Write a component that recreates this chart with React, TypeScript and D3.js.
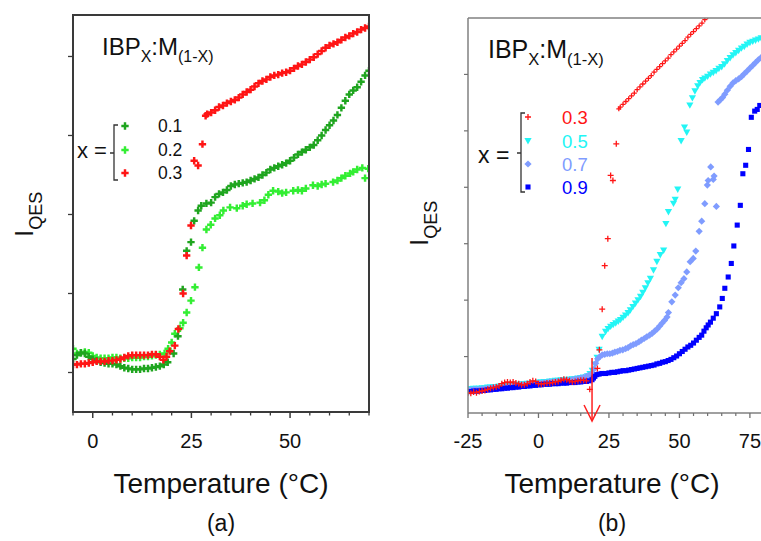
import React from "react";
import * as d3 from "d3";

// ---------- Panel (a) data: [temperature °C, I_QES (a.u.)] ----------
const aX01: [number, number][] = [[-5,1.17],[-4,1.22],[-3,1.25],[-2,1.24],[-1,1.20],[0,1.17],[1,1.15],[2,1.13],[3,1.12],[4,1.11],[5,1.11],[6,1.10],[7,1.08],[8,1.06],[9,1.05],[10,1.04],[11,1.04],[12,1.04],[13,1.05],[14,1.05],[15,1.06],[16,1.07],[17,1.08],[18,1.10],[19,1.13],[20.5,1.24],[21.6,1.46],[22.8,2.05],[23.8,2.54],[24.9,2.65],[25.7,2.92],[26.7,3.05],[27.5,3.11],[28.8,3.14],[30,3.15],[31,3.22],[32,3.26],[33,3.28],[34,3.31],[35,3.36],[36,3.38],[37,3.39],[38,3.40],[39,3.41],[40,3.43],[41,3.45],[42,3.47],[43,3.50],[44,3.53],[45,3.57],[46,3.59],[47,3.61],[48,3.63],[49,3.65],[50,3.68],[51,3.72],[52,3.76],[53,3.79],[54,3.82],[55,3.85],[56,3.88],[57,3.94],[58,4.00],[59,4.07],[60,4.13],[61,4.19],[62,4.26],[63,4.35],[64,4.44],[65,4.52],[66,4.57],[67,4.61],[68,4.68],[69,4.76],[70,4.82]];
const aX02: [number, number][] = [[-5,1.30],[-4,1.24],[-3,1.25],[-2,1.26],[-1,1.25],[0,1.21],[1,1.19],[2,1.18],[3,1.18],[4,1.18],[5,1.19],[6,1.19],[7,1.18],[8,1.18],[9,1.18],[10,1.19],[11,1.19],[12,1.19],[13,1.20],[14,1.20],[15,1.21],[16,1.22],[17,1.23],[18.2,1.24],[19.1,1.30],[20,1.38],[20.8,1.49],[22.1,1.56],[22.9,1.63],[23.8,1.76],[24.9,1.91],[25.9,2.08],[26.9,2.33],[27.8,2.58],[28.8,2.81],[29.9,2.87],[31,2.95],[32.2,2.99],[33.1,3.05],[34.8,3.09],[36.5,3.08],[38,3.11],[39,3.13],[40.5,3.14],[42.4,3.15],[43.5,3.18],[44.5,3.25],[45.7,3.30],[47,3.29],[48,3.27],[49,3.28],[50.8,3.30],[52,3.31],[53,3.30],[54,3.33],[55.8,3.37],[57,3.36],[58,3.38],[59,3.39],[60.9,3.41],[62,3.43],[63,3.46],[64,3.49],[65.2,3.52],[66,3.54],[67,3.57],[68.3,3.59],[69,3.46],[69.8,3.58]];
const aX03: [number, number][] = [[-5,1.10],[-4,1.10],[-3,1.11],[-2,1.11],[-1,1.12],[0,1.13],[1,1.14],[2,1.14],[3,1.14],[4,1.15],[5,1.15],[6,1.16],[7,1.17],[8,1.19],[9,1.21],[10,1.22],[11,1.22],[12,1.22],[13,1.22],[14,1.22],[15,1.23],[16,1.23],[17,1.20],[17.9,1.16],[18.7,1.20],[19.5,1.27],[20.8,1.34],[21.7,1.55],[22.9,2.00],[23.8,2.48],[24.9,2.86],[25.7,3.68],[26.7,3.62],[27.8,3.89],[28.6,4.25],[29,4.27],[30,4.29],[31,4.32],[32,4.36],[33,4.38],[34,4.41],[35,4.43],[36,4.45],[37,4.48],[38,4.52],[39,4.55],[40,4.58],[41,4.62],[42,4.66],[43,4.69],[44,4.71],[45,4.74],[46,4.76],[47,4.77],[48,4.79],[49,4.80],[50,4.82],[51,4.85],[52,4.88],[53,4.90],[54,4.93],[55,4.96],[56,4.99],[57,5.03],[58,5.07],[59,5.11],[60,5.14],[61,5.16],[62,5.18],[63,5.21],[64,5.24],[65,5.26],[66,5.29],[67,5.31],[68,5.34],[69,5.36],[70,5.38]];

// ---------- Panel (b) data ----------
const bX03: [number, number][] = [[-25,0.36],[-24,0.35],[-23,0.37],[-22,0.36],[-21,0.38],[-20,0.39],[-19,0.40],[-18,0.42],[-17,0.44],[-16,0.45],[-15,0.46],[-14,0.48],[-13,0.52],[-12,0.54],[-11,0.55],[-10,0.54],[-9,0.55],[-8,0.53],[-7,0.52],[-6,0.50],[-5,0.50],[-4,0.52],[-3,0.55],[-2,0.57],[-1,0.56],[0,0.52],[1,0.51],[2,0.52],[3,0.53],[4,0.53],[5,0.54],[6,0.55],[7,0.56],[8,0.58],[9,0.60],[10,0.59],[11,0.57],[12,0.55],[13,0.56],[14,0.57],[15,0.58],[16,0.58],[17,0.57],[18.2,0.42],[20.9,0.79],[21.6,1.12],[22.6,1.84],[23.5,2.61],[24.6,3.09],[25.6,4.21],[26.4,4.12],[27.6,4.77],[28.5,5.39],[29,5.42],[30,5.47],[31,5.52],[32,5.57],[33,5.62],[34,5.67],[35,5.73],[36,5.78],[37,5.83],[38,5.88],[39,5.93],[40,5.98],[41,6.04],[42,6.09],[43,6.14],[44,6.19],[45,6.24],[46,6.29],[47,6.35],[48,6.40],[49,6.45],[50,6.50],[51,6.55],[52,6.60],[53,6.66],[54,6.71],[55,6.76],[56,6.81],[57,6.86],[58,6.91],[59,6.97],[60,7.02]];
const bX05: [number, number][] = [[-25,0.42],[-24,0.42],[-23,0.43],[-22,0.43],[-21,0.43],[-20,0.44],[-19,0.44],[-18,0.45],[-17,0.45],[-16,0.46],[-15,0.46],[-14,0.47],[-13,0.47],[-12,0.48],[-11,0.48],[-10,0.49],[-9,0.49],[-8,0.50],[-7,0.50],[-6,0.51],[-5,0.51],[-4,0.52],[-3,0.52],[-2,0.53],[-1,0.53],[0,0.54],[1,0.54],[2,0.55],[3,0.55],[4,0.56],[5,0.56],[6,0.57],[7,0.57],[8,0.58],[9,0.58],[10,0.59],[11,0.59],[12,0.60],[13,0.60],[14,0.61],[15,0.62],[16,0.63],[17.4,0.65],[18.3,0.69],[19.1,0.75],[20,0.86],[20.8,0.98],[21.5,1.12],[22.6,1.35],[23.8,1.44],[24.7,1.49],[25.6,1.53],[26.5,1.56],[27.4,1.59],[28.3,1.62],[29.1,1.65],[30,1.69],[30.9,1.73],[31.8,1.77],[32.6,1.82],[33.5,1.88],[34.4,1.94],[35.3,2.00],[36.2,2.06],[37,2.13],[37.9,2.21],[38.8,2.30],[39.7,2.38],[40.8,2.53],[42,2.68],[43.2,2.80],[44.4,2.88],[45.2,3.35],[46.1,3.56],[47.9,3.71],[48.5,3.78],[49.4,3.96],[50.6,4.82],[51.8,5.06],[52.6,4.97],[53.7,5.45],[54.6,5.58],[55.5,5.70],[56.5,5.79],[57.3,5.85],[58.2,5.90],[59,5.93],[60,5.96],[61,6.00],[62,6.03],[63,6.06],[64,6.10],[65,6.13],[66,6.18],[67,6.24],[68,6.29],[69,6.34],[70,6.38],[71,6.42],[72,6.46],[73,6.49],[74,6.53],[75,6.56],[76,6.58],[77,6.60],[78,6.62],[79,6.64]];
const bX07: [number, number][] = [[-25,0.41],[-24,0.41],[-23,0.42],[-22,0.42],[-21,0.42],[-20,0.43],[-19,0.43],[-18,0.44],[-17,0.44],[-16,0.45],[-15,0.45],[-14,0.46],[-13,0.46],[-12,0.47],[-11,0.47],[-10,0.48],[-9,0.48],[-8,0.49],[-7,0.49],[-6,0.50],[-5,0.50],[-4,0.51],[-3,0.51],[-2,0.52],[-1,0.52],[0,0.53],[1,0.53],[2,0.54],[3,0.54],[4,0.55],[5,0.55],[6,0.56],[7,0.56],[8,0.57],[9,0.57],[10,0.58],[11,0.58],[12,0.59],[13,0.60],[14,0.61],[15,0.62],[16,0.63],[17,0.65],[18,0.67],[19,0.70],[19.7,0.78],[20.3,0.88],[21,0.96],[21.8,1.00],[22.6,1.03],[23.5,1.04],[24.4,1.05],[25.3,1.05],[26.2,1.06],[27.1,1.08],[28,1.09],[28.9,1.11],[29.9,1.12],[30.9,1.14],[31.8,1.16],[32.7,1.19],[33.6,1.21],[34.6,1.23],[35.6,1.26],[36.5,1.29],[37.5,1.32],[38.4,1.35],[39.4,1.38],[40.3,1.41],[41.2,1.45],[42.1,1.49],[43,1.54],[43.8,1.59],[44.7,1.64],[45.6,1.70],[46.1,1.78],[47.3,1.97],[48.5,2.09],[49.6,2.22],[50.6,2.31],[51.6,2.38],[52.6,2.50],[53.8,2.68],[54.9,2.74],[55.8,2.87],[57,3.22],[57.9,3.40],[59,3.71],[59.9,4.04],[60.2,4.12],[61.1,4.36],[62,4.14],[62.3,4.20],[63.1,3.66],[63.7,5.51],[64.5,5.55],[65.3,5.59],[66.1,5.65],[67,5.72],[68,5.79],[69,5.85],[70,5.89],[71,5.92],[72,5.96],[73,6.01],[74,6.06],[75,6.11],[76,6.16],[77,6.21],[78,6.26],[79,6.30]];
const bX09: [number, number][] = [[-25,0.38],[-24,0.38],[-23,0.39],[-22,0.39],[-21,0.39],[-20,0.40],[-19,0.40],[-18,0.41],[-17,0.41],[-16,0.42],[-15,0.42],[-14,0.43],[-13,0.43],[-12,0.44],[-11,0.44],[-10,0.45],[-9,0.45],[-8,0.46],[-7,0.46],[-6,0.47],[-5,0.47],[-4,0.48],[-3,0.48],[-2,0.49],[-1,0.49],[0,0.50],[1,0.50],[2,0.51],[3,0.51],[4,0.51],[5,0.52],[6,0.52],[7,0.52],[8,0.53],[9,0.53],[10,0.53],[11,0.54],[12,0.54],[13,0.54],[14,0.55],[15,0.55],[16,0.56],[17,0.56],[18,0.57],[19,0.59],[19.5,0.62],[20,0.65],[20.7,0.68],[21.5,0.69],[22.5,0.70],[23.8,0.70],[25,0.71],[26,0.72],[27,0.72],[28,0.73],[29,0.74],[30,0.75],[31,0.75],[32,0.76],[33,0.77],[34,0.78],[35,0.79],[36,0.80],[37,0.81],[38,0.82],[39,0.83],[40,0.84],[41,0.85],[42,0.87],[43,0.88],[44,0.90],[45,0.91],[46,0.93],[47,0.95],[48,0.98],[49,1.01],[50,1.05],[51,1.09],[52,1.13],[53,1.17],[54,1.20],[55,1.24],[56,1.29],[57,1.34],[57.9,1.38],[58.7,1.45],[59.5,1.51],[60.2,1.56],[61,1.61],[62,1.68],[63.1,1.76],[64.3,1.88],[65.2,2.03],[66.1,2.21],[67.3,2.41],[68.4,2.65],[69.3,2.96],[70.5,3.33],[71.6,3.68],[72.5,4.24],[73.5,4.39],[74.5,4.67],[75.5,5.24],[76.7,5.35],[77.6,5.38],[78.5,5.45]];

// ---------- Axis ticks & legends ----------
const aXMajor = [0, 25, 50];
const aXMinor = [-5, 5, 10, 15, 20, 30, 35, 40, 45, 55, 60, 65, 70];
const aYTicks = [1, 2, 3, 4, 5];
const bXMajor = [-25, 0, 25, 50, 75];
const bXMinor = [-20, -15, -10, -5, 5, 10, 15, 20, 30, 35, 40, 45, 55, 60, 65, 70, 80];
const bYTicks = [1, 2, 3, 4, 5, 6];
const aLegend = ["0.1", "0.2", "0.3"];
const bLegend = ["0.3", "0.5", "0.7", "0.9"];
const arrowTemp = 19;

const FONT = "'Liberation Sans', Arial, sans-serif";
const C_DG = "#1fa51f";
const C_LG = "#33ee33";
const C_RED = "#ff1515";
const C_CY = "#22f5f5";
const C_LB = "#7f9cff";
const C_BL = "#0000ff";

// panel boxes (layout)
const A = { l: 73, r: 369, t: 15, b: 412 };
const B = { l: 468, r: 764, t: 18, b: 413 };

const xA = d3.scaleLinear().domain([-5, 70]).range([A.l, A.r]);
const yA = d3.scaleLinear().domain([0.5, 5.525]).range([A.b, A.t]);
const xB = d3.scaleLinear().domain([-25, 80]).range([B.l, B.r]);
const yB = d3.scaleLinear().domain([0, 7]).range([B.b, B.t]);

const crossPath = d3.symbol().type(d3.symbolCross).size(30)() as string;
const squarePath = d3.symbol().type(d3.symbolSquare).size(26)() as string;
const thinPlus = "M-3,0H3M0,-3V3";
const smallPlus = "M-2.5,0H2.5M0,-2.5V2.5";
const diamondPath = "M0,-3.6L3.6,0L0,3.6L-3.6,0Z";
const triDown = "M-3.6,-3L3.6,-3L0,3.4Z";

function AMarker({ x, y, color }: { x: number; y: number; color: string }) {
  return <path d={crossPath} transform={`translate(${x},${y})`} fill={color} />;
}

export default function App() {
  const aSeries = [
    { data: aX02, color: C_LG },
    { data: aX01, color: C_DG },
    { data: aX03, color: C_RED },
  ];
  const aLegendColors = [C_DG, C_LG, C_RED];
  const bLegendColors = [C_RED, C_CY, C_LB, C_BL];
  const bLegendY = [117, 141, 164, 187];
  const aLegendY = [126, 150, 173];

  const bMarker = (k: number, x: number, y: number, key: any) => {
    const t = `translate(${x},${y})`;
    if (k === 0) {
      return <path key={key} d={y < 120 && x > 610 ? smallPlus : thinPlus} transform={t} stroke={C_RED} strokeWidth={1.3} fill="none" />;
    }
    if (k === 1) return <path key={key} d={triDown} transform={t} fill={C_CY} />;
    if (k === 2) return <path key={key} d={diamondPath} transform={t} fill={C_LB} />;
    return <path key={key} d={squarePath} transform={t} fill={C_BL} />;
  };

  return (
    <svg width={761} height={541} style={{ position: "absolute", left: 0, top: 0, background: "#fff" }} fontFamily={FONT}>
      <defs>
        <clipPath id="clipA"><rect x={A.l} y={A.t} width={A.r - A.l} height={A.b - A.t} /></clipPath>
        <clipPath id="clipB"><rect x={B.l} y={B.t} width={761 - B.l} height={B.b - B.t} /></clipPath>
      </defs>
      <rect x={0} y={0} width={761} height={541} fill="#fff" />

      {/* ---------------- Panel (a) ---------------- */}
      <g clipPath="url(#clipA)">
        {aSeries.map((s, si) =>
          s.data.map((d, i) => <AMarker key={`a${si}-${i}`} x={xA(d[0])} y={yA(d[1])} color={s.color} />)
        )}
      </g>
      <rect x={A.l} y={A.t} width={A.r - A.l} height={A.b - A.t} fill="none" stroke="#3a3a3a" strokeWidth={2} />
      {aXMajor.map((t) => (
        <line key={`axM${t}`} x1={xA(t)} x2={xA(t)} y1={A.b} y2={A.b + 6} stroke="#3a3a3a" strokeWidth={1.5} />
      ))}
      {aXMinor.map((t) => (
        <line key={`axm${t}`} x1={xA(t)} x2={xA(t)} y1={A.b} y2={A.b + 3.5} stroke="#3a3a3a" strokeWidth={1.3} />
      ))}
      {aYTicks.map((t) => (
        <line key={`ay${t}`} x1={A.l - 5} x2={A.l} y1={yA(t)} y2={yA(t)} stroke="#3a3a3a" strokeWidth={1.3} />
      ))}
      {aXMajor.map((t) => (
        <text key={`axl${t}`} x={xA(t)} y={448} fontSize={20} textAnchor="middle" fill="#111">{t}</text>
      ))}
      <text x={(A.l + A.r) / 2} y={493} fontSize={28} textAnchor="middle" fill="#111">Temperature (°C)</text>
      <text x={(A.l + A.r) / 2} y={531} fontSize={23} textAnchor="middle" fill="#111">(a)</text>
      <text transform="translate(33,237) rotate(-90)" fontSize={26} fill="#111">
        I<tspan dy={9} fontSize={18}>QES</tspan>
      </text>
      <text x={102} y={55} fontSize={24} fill="#111">
        IBP<tspan dy={7} fontSize={16}>X</tspan><tspan dy={-7}>:M</tspan><tspan dy={7} fontSize={16}>(1-X)</tspan>
      </text>
      <text x={77} y={158} fontSize={22} fill="#111">x =</text>
      <path d="M118,125H114V180H118M114,153H110" fill="none" stroke="#333" strokeWidth={1.3} />
      {aLegend.map((l, i) => (
        <g key={`al${l}`}>
          <AMarker x={125} y={aLegendY[i]} color={aLegendColors[i]} />
          <text x={158} y={aLegendY[i] + 6} fontSize={17.5} fill="#111">{l}</text>
        </g>
      ))}

      {/* ---------------- Panel (b) ---------------- */}
      <g clipPath="url(#clipB)">
        {[bX05, bX07, bX09, bX03].map((data, si) => {
          const k = [1, 2, 3, 0][si];
          return data.map((d, i) => bMarker(k, xB(d[0]), yB(d[1]), `b${si}-${i}`));
        })}
      </g>
      <line x1={B.l} x2={761} y1={B.t} y2={B.t} stroke="#808080" strokeWidth={1.5} />
      <line x1={B.l} x2={B.l} y1={B.t} y2={B.b} stroke="#808080" strokeWidth={1.5} />
      <line x1={B.l} x2={761} y1={B.b} y2={B.b} stroke="#808080" strokeWidth={1.5} />
      {bXMajor.map((t) => (
        <line key={`bxM${t}`} x1={xB(t)} x2={xB(t)} y1={B.b} y2={B.b + 5} stroke="#707070" strokeWidth={1.3} />
      ))}
      {bXMinor.map((t) => (
        <line key={`bxm${t}`} x1={xB(t)} x2={xB(t)} y1={B.b} y2={B.b + 3} stroke="#707070" strokeWidth={1.2} />
      ))}
      {bYTicks.map((t) => (
        <line key={`by${t}`} x1={B.l - 4} x2={B.l} y1={yB(t)} y2={yB(t)} stroke="#707070" strokeWidth={1.2} />
      ))}
      {bXMajor.map((t) => (
        <text key={`bxl${t}`} x={xB(t)} y={448} fontSize={20} textAnchor="middle" fill="#111">{t}</text>
      ))}
      <text x={612} y={493} fontSize={28} textAnchor="middle" fill="#111">Temperature (°C)</text>
      <text x={612} y={531} fontSize={23} textAnchor="middle" fill="#111">(b)</text>
      <text transform="translate(428,246) rotate(-90)" fontSize={26} fill="#111">
        I<tspan dy={9} fontSize={18}>QES</tspan>
      </text>
      <text x={488} y={58} fontSize={25} fill="#111">
        IBP<tspan dy={7} fontSize={16.5}>X</tspan><tspan dy={-7}>:M</tspan><tspan dy={7} fontSize={16.5}>(1-X)</tspan>
      </text>
      <text x={478} y={163} fontSize={23} fill="#111">x =</text>
      <path d="M525,113H521V192H525M521,153H517" fill="none" stroke="#333" strokeWidth={1.3} />
      {bLegend.map((l, i) => (
        <g key={`bl${l}`}>
          {bMarker(i === 0 ? 0 : i, 528, bLegendY[i], `blm${i}`)}
          <text x={562} y={bLegendY[i] + 6.5} fontSize={18.5} fill={bLegendColors[i]}>{l}</text>
        </g>
      ))}
      {/* arrow */}
      <g stroke="#ff2020" strokeWidth={1.5} fill="none">
        <line x1={xB(arrowTemp)} x2={xB(arrowTemp)} y1={358} y2={421} />
        <path d={`M${xB(arrowTemp) - 8},405L${xB(arrowTemp)},421L${xB(arrowTemp) + 8},405`} />
      </g>
    </svg>
  );
}
